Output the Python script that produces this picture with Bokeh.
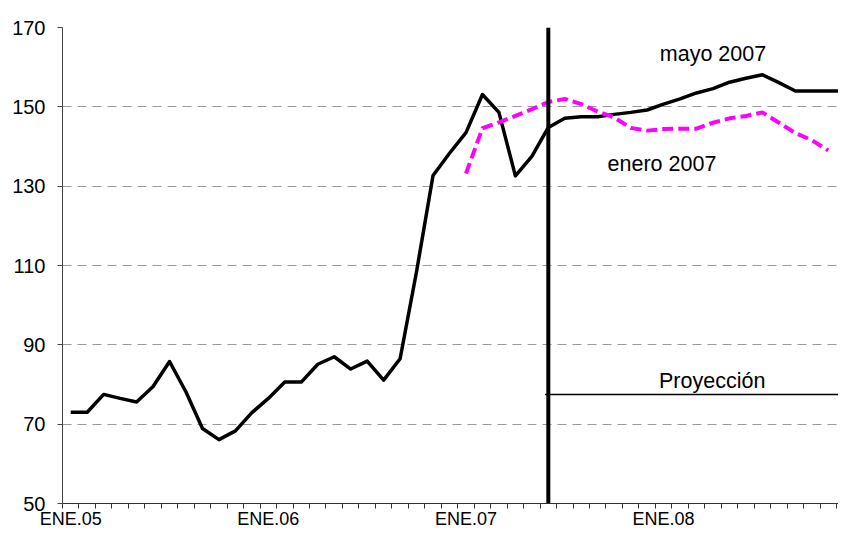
import math
from bokeh.plotting import figure
from bokeh.models import Range1d, FixedTicker, Span, Label
from bokeh.embed import file_html
from bokeh.resources import INLINE

nan = float("nan")

# ---- data -------------------------------------------------------------
months = list(range(48))                      # ENE.05 ... DIC.08
tick_positions = [0, 12, 24, 36]
tick_labels = ["ENE.05", "ENE.06", "ENE.07", "ENE.08"]
y_ticks = [50, 70, 90, 110, 130, 150, 170]

mayo_2007 = [73.0, 73.0, 77.5, 76.5, 75.6, 79.5, 85.8, 78.1, 68.9, 66.1, 68.3, 72.9,
             76.5, 80.6, 80.6, 85.1, 87.0, 83.9, 85.9, 81.1, 86.5, 108.5, 132.7, 138.3,
             143.5, 153.1, 148.6, 132.6, 137.5, 144.8, 147.1, 147.5, 147.5, 148.1, 148.6, 149.2,
             150.7, 152.0, 153.5, 154.6, 156.2, 157.2, 158.1, 156.1, 154.0, 154.0, 154.0, 154.0]

enero_2007 = [nan] * 24 + [133.2, 144.6, 146.1, 147.7, 149.4, 151.2, 152.0, 150.7, 148.8, 147.3, 144.7, 144.0,
                           144.4, 144.5, 144.5, 146.0, 147.1, 147.7, 148.6, 146.0, 143.4, 141.6, 139.0, nan]

projection_start = 29          # JUN.07
projection_level = 77.5

# ---- figure -------------------------------------------------------------
p = figure(width=838, height=531, output_backend="svg", toolbar_location=None,
           x_range=Range1d(-0.5, 46.62), y_range=Range1d(y_ticks[0], y_ticks[-1]),
           min_border_left=62, min_border_right=0, min_border_top=27, min_border_bottom=22)
p.outline_line_color = None
p.background_fill_color = "white"
p.border_fill_color = "white"

p.xgrid.visible = False
p.ygrid.grid_line_color = "#9a9a9a"
p.ygrid.grid_line_dash = "9 6"
p.ygrid.grid_line_width = 1

# y axis
p.yaxis.ticker = FixedTicker(ticks=y_ticks)
p.yaxis.axis_line_color = "#444444"
p.yaxis.major_tick_line_color = "#444444"
p.yaxis.major_tick_out = 5
p.yaxis.major_tick_in = 0
p.yaxis.minor_tick_line_color = None
p.yaxis.major_label_standoff = 12
p.yaxis.major_label_text_font = "Liberation Sans"
p.yaxis.major_label_text_font_size = "20px"
p.yaxis.major_label_text_color = "black"

# x axis: tick marks at month boundaries, labels at January of each year
p.xaxis.ticker = FixedTicker(ticks=tick_positions,
                             minor_ticks=[m - 0.5 for m in months] + [months[-1] + 0.5])
p.xaxis.major_label_overrides = {pos: lab for pos, lab in zip(tick_positions, tick_labels)}
p.xaxis.axis_line_color = "#333333"
p.xaxis.major_tick_line_color = None
p.xaxis.major_tick_out = 5
p.xaxis.major_tick_in = 0
p.xaxis.minor_tick_line_color = "#333333"
p.xaxis.minor_tick_out = 5
p.xaxis.minor_tick_in = 0
p.xaxis.major_label_standoff = 0
p.xaxis.major_label_text_font = "Liberation Sans"
p.xaxis.major_label_text_font_size = "18px"
p.xaxis.major_label_text_color = "black"

# ---- series -------------------------------------------------------------
p.line(months, mayo_2007, line_width=3.5, line_color="black", line_join="round")
p.line(months, enero_2007, line_width=4, line_color="#FF00FF", line_dash="11 5")

p.segment(x0=[projection_start - 0.2], y0=[projection_level],
          x1=[months[-1] + 0.5], y1=[projection_level], line_width=1.5, line_color="black")

p.add_layout(Span(location=projection_start, dimension="height", line_width=4, line_color="black"))

for txt, x, y in [("mayo 2007", 39.0, 163.2), ("enero 2007", 35.9, 135.6), ("Proyección", 38.95, 80.9)]:
    p.add_layout(Label(x=x, y=y, text=txt, text_align="center", text_baseline="alphabetic",
                       text_font="Liberation Sans", text_font_size="21.5px", text_color="black"))

open("out.html", "w").write(file_html(p, INLINE))
